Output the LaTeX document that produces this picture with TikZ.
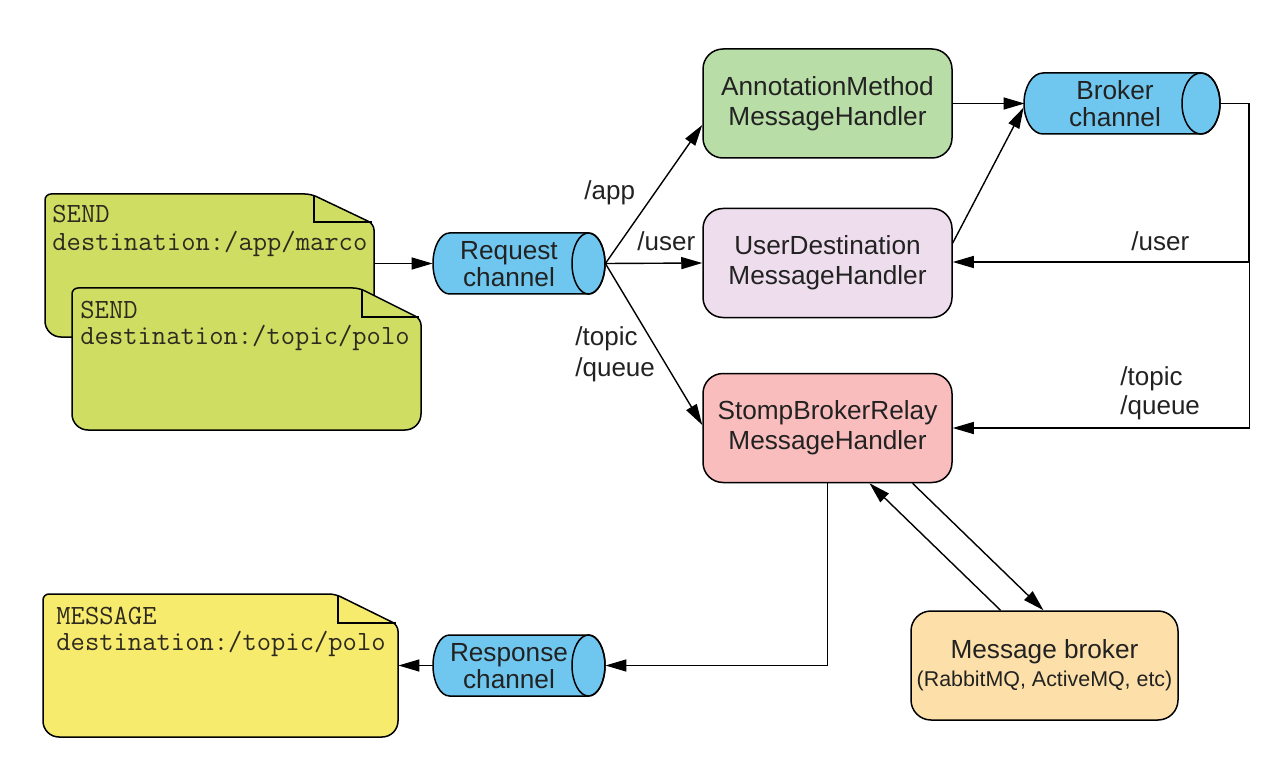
\documentclass[tikz,border=0pt]{standalone}
\usepackage{fontspec}
\setmainfont{Liberation Sans}
\usetikzlibrary{arrows.meta,calc}
\definecolor{docgreen}{HTML}{CFDE62}
\definecolor{docyellow}{HTML}{F7EB6E}
\definecolor{chanblue}{HTML}{6FC7EF}
\definecolor{anngreen}{HTML}{B8DDA6}
\definecolor{userpink}{HTML}{EEDDED}
\definecolor{stomppink}{HTML}{F9BDBD}
\definecolor{mbpeach}{HTML}{FDE0A9}
\definecolor{txt}{HTML}{222222}
\definecolor{doctxt}{HTML}{2E2A20}
\begin{document}
\begin{tikzpicture}[x=0.5pt,y=-0.5pt,
  box/.style={draw, line width=0.75pt, rounded corners=10pt, minimum width=124.5pt,
    minimum height=54.5pt, align=center, text=txt, inner sep=0pt,
    font=\fontsize{13.1}{15}\selectfont},
  chanshape/.style={draw, line width=0.75pt, fill=chanblue},
  chanbox/.style={inner sep=0pt, minimum width=86pt, minimum height=30.5pt},
  chantext/.style={align=center, text=txt, inner sep=0pt, font=\fontsize{13.1}{13.6}\selectfont},
  docshape/.style={draw, line width=0.75pt},
  docbox/.style={inner sep=0pt},
  doctext/.style={anchor=base west, inner sep=0pt, text=doctxt, font=\ttfamily\fontsize{13.9}{14}\selectfont},
  lbl/.style={anchor=base west, inner sep=0pt, text=txt, font=\fontsize{13}{15}\selectfont},
  arr/.style={-{Triangle[length=10.5pt,width=6pt]}, line width=0.7pt},
  ln/.style={line width=0.7pt}
]
\useasboundingbox (0,0) rectangle (1287,765);

% ---------- documents ----------
\draw[docshape, fill=docgreen] (150,194) [rounded corners=3pt] -- (311,194) -- (374,224) -- (374,300)
  [rounded corners=8pt] -- (374,337) -- (45,337) -- (45,300) [rounded corners=3pt] -- (45,194) -- cycle;
\draw[docshape] (314,195) -- (314,222) -- (372,222);
\node[docbox, minimum width=164.5pt, minimum height=71.5pt] (doc1) at (209.5,265.5) {};
\node[doctext] (doc1a) at (52,223) {SEND};
\node[doctext] (doc1b) at (52,250) {destination:/app/marco};

\draw[docshape, fill=docgreen] (200,288) [rounded corners=3pt] -- (359,288) -- (421,319) -- (421,390)
  [rounded corners=8pt] -- (421,430) -- (72,430) -- (72,390) [rounded corners=3pt] -- (72,288) -- cycle;
\draw[docshape] (362,289) -- (362,317) -- (419,317);
\node[docbox, minimum width=174.5pt, minimum height=71pt] (doc2) at (246.5,359) {};
\node[doctext] (doc2a) at (80,318) {SEND};
\node[doctext] (doc2b) at (80,344) {destination:/topic/polo};

\draw[docshape, fill=docyellow] (150,594) [rounded corners=3pt] -- (335,594) -- (398,625) -- (398,690)
  [rounded corners=8pt] -- (398,737) -- (43,737) -- (43,690) [rounded corners=3pt] -- (43,594) -- cycle;
\draw[docshape] (338,595) -- (338,623) -- (396,623);
\node[docbox, minimum width=177.5pt, minimum height=71.5pt] (doc3) at (220.5,665.5) {};
\node[doctext] (doc3a) at (56,624) {MESSAGE};
\node[doctext] (doc3b) at (56,650) {destination:/topic/polo};

% ---------- channels ----------
% Request channel: 433..605, 233..294
\draw[chanshape] (449.5,233) -- (588.5,233) arc[start angle=90,end angle=-90,x radius=8.25pt,y radius=15.25pt]
  -- (449.5,294) arc[start angle=270,end angle=90,x radius=8.25pt,y radius=15.25pt] -- cycle;
\draw[line width=0.75pt] (588.5,263.5) ellipse[x radius=8.25pt,y radius=15.25pt];
\node[chanbox] (req) at (519,263.5) {};
\node[chantext] (reqt) at (509,264) {Request\\channel};

% Response channel: 433..605, 635..696
\draw[chanshape] (449.5,635) -- (588.5,635) arc[start angle=90,end angle=-90,x radius=8.25pt,y radius=15.25pt]
  -- (449.5,696) arc[start angle=270,end angle=90,x radius=8.25pt,y radius=15.25pt] -- cycle;
\draw[line width=0.75pt] (588.5,665.5) ellipse[x radius=8.25pt,y radius=15.25pt];
\node[chanbox] (resp) at (519,665.5) {};
\node[chantext] (respt) at (509,666) {Response\\channel};

% Broker channel: 1025..1220, 73..134
\draw[chanshape] (1043,73) -- (1201,73) arc[start angle=90,end angle=-90,x radius=9.5pt,y radius=15.25pt]
  -- (1043,134) arc[start angle=270,end angle=90,x radius=9.5pt,y radius=15.25pt] -- cycle;
\draw[line width=0.75pt] (1201,103.5) ellipse[x radius=9.5pt,y radius=15.25pt];
\node[chanbox, minimum width=97.5pt] (brk) at (1122.5,103.5) {};
\node[chantext] (brkt) at (1115,104) {Broker\\channel};

% ---------- handlers ----------
\node[box, fill=anngreen] (ann) at (827.5,103.5) {AnnotationMethod\\MessageHandler};
\node[box, fill=userpink] (user) at (827.5,263) {UserDestination\\MessageHandler};
\node[box, fill=stomppink] (stomp) at (827.5,428) {StompBrokerRelay\\MessageHandler};
\node[box, fill=mbpeach, minimum width=133.5pt] (mb) at (1044.5,665.5)
  {Message broker\\[-1pt]{\fontsize{10.7}{13}\selectfont (RabbitMQ, ActiveMQ, etc)}};

% ---------- connectors ----------
\draw[arr] (req.west -| doc1.east) -- (req.west);
\draw[arr] (req.east) -- ($(ann.west)+(0,21.5)$);
\draw[arr] (req.east) -- (user.west);
\draw[arr] (req.east) -- ($(stomp.west)+(0,-3)$);
\draw[arr] (ann.east) -- (brk.west);
\draw[arr] ($(user.east)+(0,-20)$) -- ($(brk.west)+(-1,4)$);
\coordinate (bend) at (1249,103.5);
\draw[arr] (brk.east) -- (bend) |- ($(user.east)+(0,-1)$);
\draw[arr] ($(user.east)+(297,-1)$) |- (stomp.east);
\draw[arr] (stomp.south) |- (resp.east);
\draw[arr] (resp.west) -- (resp.west -| doc3.east);
\draw[arr] ($(mb.north)+(-44,0)$) -- ($(stomp.south)+(42,0)$);
\draw[arr] ($(stomp.south)+(85,0)$) -- ($(mb.north)+(-1,0)$);

% ---------- labels ----------
\node[lbl] (lapp) at (584,200) {/app};
\node[lbl] (luser) at (637,250) {/user};
\node[lbl] (ltopic) at (575,345) {/topic};
\node[lbl] (lqueue) at (575,376) {/queue};
\node[lbl] (ruser) at (1131,250) {/user};
\node[lbl] (rtopic) at (1120,386) {/topic};
\node[lbl] (rqueue) at (1120,414) {/queue};
\end{tikzpicture}
\end{document}
